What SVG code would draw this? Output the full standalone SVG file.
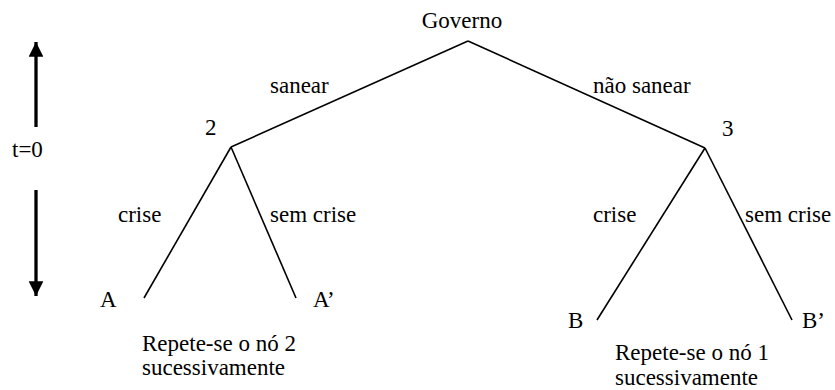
<svg xmlns="http://www.w3.org/2000/svg" width="835" height="390" viewBox="0 0 835 390">
<style>
text{font-family:"Liberation Serif","Times New Roman","DejaVu Serif",serif;font-size:23px;fill:#000}
.e{stroke:#000;stroke-width:1.6;fill:none}
.ax{stroke:#000;stroke-width:3.3;fill:none}
</style>
<defs>
<marker id="ah" viewBox="0 0 10 10" refX="10" refY="5" markerWidth="4.5" markerHeight="4.5" markerUnits="strokeWidth" orient="auto">
<path d="M0,0 L10,5 L0,10 z" fill="#000"/>
</marker>
</defs>
<rect width="835" height="390" fill="#fff"/>
<g id="connectors" font-family="Liberation Serif, serif">
<line class="e" x1="468" y1="41" x2="231" y2="147"/>
<line class="e" x1="468" y1="41" x2="705" y2="148"/>
<line class="e" x1="231" y1="147" x2="144" y2="298"/>
<line class="e" x1="231" y1="147" x2="296" y2="298"/>
<line class="e" x1="705" y1="148" x2="597" y2="320"/>
<line class="e" x1="705" y1="148" x2="792" y2="320"/>
<text x="270" y="93">sanear</text>
<text x="593" y="93">não sanear</text>
<text x="118" y="222">crise</text>
<text x="270" y="222">sem crise</text>
<text x="593" y="222">crise</text>
<text x="745" y="222">sem crise</text>
</g>
<g id="time-axis">
<line class="ax" x1="36" y1="127" x2="36" y2="42" marker-end="url(#ah)"/>
<line class="ax" x1="36" y1="190" x2="36" y2="296" marker-end="url(#ah)"/>
<text x="12" y="157">t=0</text>
</g>
<g id="node-governo"><text x="462" y="28" text-anchor="middle">Governo</text></g>
<g id="node-2"><text x="205" y="135">2</text></g>
<g id="node-3"><text x="722" y="136">3</text></g>
<g id="node-A"><text x="100" y="307">A</text></g>
<g id="node-A2"><text x="313" y="307">A’</text></g>
<g id="node-B"><text x="568" y="328">B</text></g>
<g id="node-B2"><text x="802" y="328">B’</text></g>
<g id="note-2"><text x="142" y="351">Repete-se o nó 2</text><text x="142" y="375">sucessivamente</text></g>
<g id="note-1"><text x="615" y="360">Repete-se o nó 1</text><text x="615" y="385">sucessivamente</text></g>
</svg>
